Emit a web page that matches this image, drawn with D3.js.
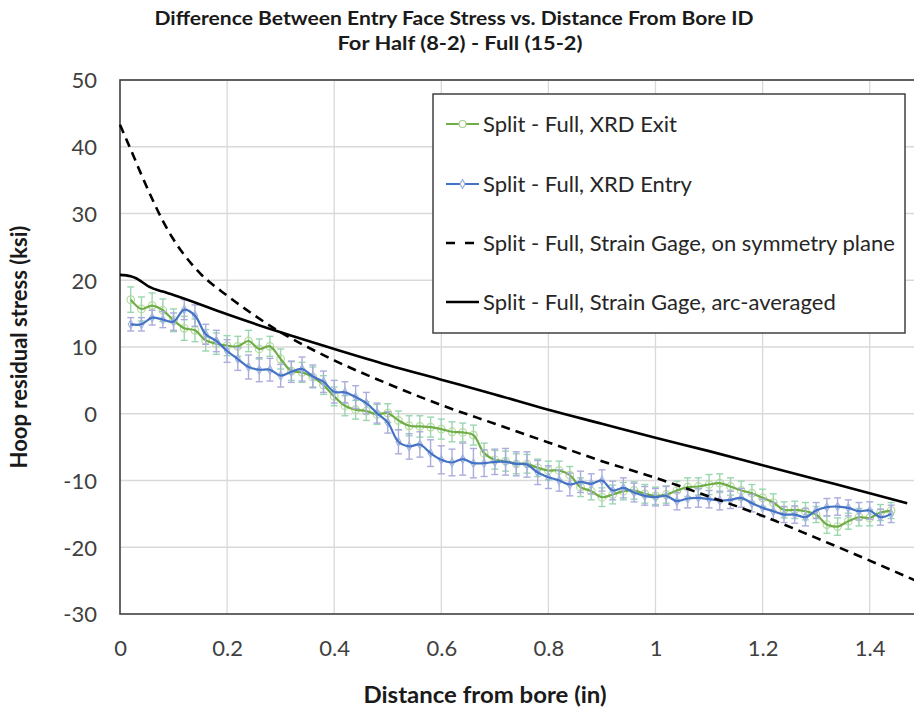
<!DOCTYPE html>
<html>
<head>
<meta charset="utf-8">
<script src="https://cdn.jsdelivr.net/npm/d3@7"></script>
<style>
  html, body { margin: 0; padding: 0; background: #fff; }
  svg { display: block; font-family: Lato, "Open Sans", sans-serif; }
</style>
</head>
<body>
<svg id="chart" width="914" height="711"></svg>
<script>
// Distance from bore (in) for the XRD measurements
const distance = [0.02,0.04,0.06,0.08,0.10,0.12,0.14,0.16,0.18,0.20,
  0.22,0.24,0.26,0.28,0.30,0.32,0.34,0.36,0.38,0.40,
  0.42,0.44,0.46,0.48,0.50,0.52,0.54,0.56,0.58,0.60,
  0.62,0.64,0.66,0.68,0.70,0.72,0.74,0.76,0.78,0.80,
  0.82,0.84,0.86,0.88,0.90,0.92,0.94,0.96,0.98,1.00,
  1.02,1.04,1.06,1.08,1.10,1.12,1.14,1.16,1.18,1.20,
  1.22,1.24,1.26,1.28,1.30,1.32,1.34,1.36,1.38,1.40,
  1.42,1.44];

// Split - Full, XRD Exit (ksi) and its error half-widths
const xrdExit = [17.1,15.7,16.2,15.5,14.0,12.8,12.5,11.0,10.5,10.2,
  10.1,10.9,9.7,10.1,8.2,6.4,6.2,5.5,4.3,2.6,
  1.2,0.6,0.4,-0.1,0.1,-1.0,-1.8,-1.9,-2.0,-2.3,
  -2.7,-2.8,-3.2,-5.9,-6.9,-7.1,-7.5,-7.5,-8.1,-8.5,
  -8.5,-9.2,-11.0,-11.6,-12.5,-12.1,-11.6,-11.5,-12.0,-12.3,
  -12.1,-11.5,-11.0,-10.9,-10.6,-10.4,-10.9,-11.5,-11.9,-12.6,
  -13.3,-14.4,-14.4,-14.6,-15.1,-16.6,-16.9,-16.1,-15.5,-15.6,
  -14.8,-14.5];
const xrdExitErr = [1.9,1.8,1.9,1.7,1.7,1.8,1.7,1.6,1.6,1.5,
  1.5,1.6,1.5,1.5,1.5,1.4,1.5,1.5,1.4,1.4,
  1.5,1.4,1.4,1.5,1.4,1.4,1.5,1.6,1.5,1.5,
  1.5,1.4,1.5,1.5,1.4,1.5,1.5,1.4,1.3,1.4,
  1.4,1.3,1.4,1.3,1.4,1.4,1.3,1.3,1.4,1.3,
  1.3,1.4,1.4,1.3,1.5,1.4,1.3,1.4,1.3,1.3,
  1.3,1.2,1.3,1.3,1.2,1.3,1.3,1.2,1.3,1.2,
  1.2,1.2];

// Split - Full, XRD Entry (ksi) and its error half-widths
const xrdEntry = [13.4,13.4,14.4,14.1,13.8,15.6,14.7,11.9,10.9,9.4,
  8.2,7.0,6.6,6.6,5.7,6.3,6.7,5.6,4.8,3.3,
  3.2,2.5,1.6,0.1,-1.3,-4.2,-4.9,-4.6,-5.9,-6.9,
  -7.3,-6.8,-7.4,-7.4,-7.2,-7.2,-7.5,-7.6,-8.8,-9.5,
  -10.0,-10.6,-10.2,-10.5,-10.0,-11.5,-11.1,-11.8,-12.3,-12.5,
  -12.3,-13.1,-12.7,-12.6,-12.8,-13.0,-12.9,-12.6,-13.4,-14.1,
  -14.6,-15.1,-15.1,-15.5,-14.5,-14.0,-13.9,-14.1,-14.6,-14.5,
  -15.5,-15.0];
const xrdEntryErr = [1.0,1.0,1.1,1.2,1.3,1.5,1.6,1.5,1.6,1.7,
  1.7,1.8,1.8,1.7,1.7,1.6,1.8,1.7,1.6,1.7,
  1.6,1.7,1.6,1.5,1.6,1.8,1.9,1.9,2.0,2.1,
  2.0,2.4,2.2,2.0,1.9,2.0,1.8,1.9,1.8,1.7,
  1.6,1.7,1.6,1.5,1.6,1.4,1.5,1.4,1.4,1.3,
  1.4,1.3,1.4,1.4,1.3,1.4,1.3,1.4,1.3,1.3,
  1.3,1.2,1.3,1.3,1.2,1.3,1.3,1.2,1.3,1.3,
  1.2,1.3];

// Strain gage, on symmetry plane
const gageSymX = [0,0.02,0.04,0.06,0.08,0.10,0.12,0.15,0.20,0.25,0.30,0.35,0.40,
  0.50,0.60,0.70,0.80,0.90,1.00,1.10,1.20,1.30,1.40,1.50];
const gageSymY = [43.3,39.6,35.8,32.2,28.9,26.1,23.8,21.0,17.7,14.8,12.2,10.0,8.0,
  4.5,1.3,-1.5,-4.3,-7.1,-9.6,-12.4,-15.3,-18.6,-22.0,-25.5];

// Strain gage, arc-averaged
const gageArcX = [0,0.02,0.03,0.04,0.055,0.08,0.10,0.20,0.30,0.40,0.50,0.60,0.70,
  0.80,0.90,1.00,1.10,1.20,1.30,1.40,1.47];
const gageArcY = [20.8,20.6,20.3,19.8,19.0,18.3,17.8,14.9,12.2,9.7,7.3,5.1,2.9,
  0.6,-1.5,-3.6,-5.6,-7.7,-9.8,-11.9,-13.4];

const xTicks = [0,0.2,0.4,0.6,0.8,1,1.2,1.4];
const xGrid = [0.2,0.4,0.6,0.8,1,1.2,1.4,1.6];
const yTicks = [-30,-20,-10,0,10,20,30,40,50];

const titleLines = ["Difference Between Entry Face Stress vs. Distance From Bore ID",
                    "For Half (8-2) - Full (15-2)"];
const xTitle = "Distance from bore (in)";
const yTitle = "Hoop residual stress (ksi)";
const legendLabels = ["Split - Full, XRD Exit", "Split - Full, XRD Entry",
  "Split - Full, Strain Gage, on symmetry plane", "Split - Full, Strain Gage, arc-averaged"];

const svg = d3.select("#chart");
const plot = {left: 120, top: 80, bottom: 614, unit: 535.5};

const x = d3.scaleLinear().domain([0, 1.6]).range([plot.left, plot.left + 1.6 * plot.unit]);
const y = d3.scaleLinear().domain([-30, 50]).range([plot.bottom, plot.top]);

// gridlines
const grid = svg.append("g");
grid.selectAll("line.v").data(xGrid).join("line")
  .attr("x1", d => x(d)).attr("x2", d => x(d))
  .attr("y1", y(50)).attr("y2", y(-30))
  .attr("stroke", "#d9d9d9").attr("stroke-width", 1.3);
grid.selectAll("line.h").data(yTicks.slice(1)).join("line")
  .attr("x1", x(0)).attr("x2", x(1.6))
  .attr("y1", d => y(d)).attr("y2", d => y(d))
  .attr("stroke", "#d9d9d9").attr("stroke-width", 1.3);

// plot frame
svg.append("rect")
  .attr("x", x(0)).attr("y", y(50))
  .attr("width", x(1.6) - x(0)).attr("height", y(-30) - y(50))
  .attr("fill", "none").attr("stroke", "#404040").attr("stroke-width", 1.6);

// axes (labels only)
const xAxis = d3.axisBottom(x).tickValues(xTicks).tickSize(0).tickPadding(0)
  .tickFormat(d => String(+d.toFixed(1)));
const yAxis = d3.axisLeft(y).tickValues(yTicks).tickSize(0).tickPadding(0)
  .tickFormat(d => String(d));

const gx = svg.append("g").attr("transform", `translate(0,${plot.bottom})`).call(xAxis);
gx.select(".domain").remove();
gx.selectAll("text").attr("y", 42).attr("dy", 0)
  .attr("font-size", 22).attr("fill", "#404040").attr("font-family", "Lato, sans-serif");

const gy = svg.append("g").attr("transform", `translate(${plot.left},0)`).call(yAxis);
gy.select(".domain").remove();
gy.selectAll("text").attr("x", -23).attr("dy", "0.36em")
  .attr("font-size", 22).attr("fill", "#404040").attr("font-family", "Lato, sans-serif");

// series
const pts = (xs, ys) => xs.map((d, i) => [d, ys[i]]);
const smooth = d3.line().x(d => x(d[0])).y(d => y(d[1])).curve(d3.curveCatmullRom.alpha(0.5));
const gageLine = d3.line().x(d => x(d[0])).y(d => y(d[1])).curve(d3.curveMonotoneX);

function errorBars(vals, errs, color) {
  const g = svg.append("g").attr("stroke", color).attr("stroke-width", 1.4).attr("fill", "none");
  distance.forEach((d, i) => {
    const cx = x(d), y1 = y(vals[i] + errs[i]), y2 = y(vals[i] - errs[i]);
    g.append("line").attr("x1", cx).attr("x2", cx).attr("y1", y1).attr("y2", y2);
    g.append("line").attr("x1", cx - 3.5).attr("x2", cx + 3.5).attr("y1", y1).attr("y2", y1);
    g.append("line").attr("x1", cx - 3.5).attr("x2", cx + 3.5).attr("y1", y2).attr("y2", y2);
  });
}

const exitPts = pts(distance, xrdExit);
const entryPts = pts(distance, xrdEntry);

// XRD exit
errorBars(xrdExit, xrdExitErr, "#9ad6b0");
svg.append("g").selectAll("circle").data(exitPts).join("circle")
  .attr("cx", d => x(d[0])).attr("cy", d => y(d[1])).attr("r", 3.8)
  .attr("fill", "none").attr("stroke", "#b5d99c").attr("stroke-width", 1.2);
svg.append("path").datum(exitPts).attr("d", smooth)
  .attr("fill", "none").attr("stroke", "#70ad47").attr("stroke-width", 2.2);

// XRD entry
errorBars(xrdEntry, xrdEntryErr, "#abacdc");
const diamond = d3.symbol().type(d3.symbolDiamond).size(22);
svg.append("g").selectAll("path").data(entryPts).join("path")
  .attr("transform", d => `translate(${x(d[0])},${y(d[1])})`).attr("d", diamond)
  .attr("fill", "none").attr("stroke", "#9db3e0").attr("stroke-width", 1.1);
svg.append("path").datum(entryPts).attr("d", smooth)
  .attr("fill", "none").attr("stroke", "#4472c4").attr("stroke-width", 2.2);

// strain gage curves
svg.append("path").datum(pts(gageSymX, gageSymY)).attr("d", gageLine)
  .attr("fill", "none").attr("stroke", "#000").attr("stroke-width", 2.6)
  .attr("stroke-dasharray", "9,6");
svg.append("path").datum(pts(gageArcX, gageArcY)).attr("d", gageLine)
  .attr("fill", "none").attr("stroke", "#000").attr("stroke-width", 2.6);

// legend
const legend = svg.append("g");
legend.append("rect").attr("x", 433).attr("y", 94).attr("width", 472).attr("height", 239)
  .attr("fill", "#fff").attr("stroke", "#404040").attr("stroke-width", 1.5);
const rowY = [124, 184, 243, 302];
const sample = {x1: 446, x2: 479};
legendLabels.forEach((label, i) => {
  const row = legend.append("g").attr("transform", `translate(0,${rowY[i]})`);
  const ln = row.append("line").attr("x1", sample.x1).attr("x2", sample.x2)
    .attr("y1", 0).attr("y2", 0);
  const mid = (sample.x1 + sample.x2) / 2;
  if (i === 0) {
    ln.attr("stroke", "#70ad47").attr("stroke-width", 2);
    row.append("circle").attr("cx", mid).attr("cy", 0).attr("r", 3.5)
      .attr("fill", "#fff").attr("stroke", "#a9d18e").attr("stroke-width", 1.2);
  } else if (i === 1) {
    ln.attr("stroke", "#4472c4").attr("stroke-width", 2);
    row.append("path").attr("transform", `translate(${mid},0)`).attr("d", diamond)
      .attr("fill", "#fff").attr("stroke", "#8faadc").attr("stroke-width", 1.1);
  } else if (i === 2) {
    ln.attr("stroke", "#000").attr("stroke-width", 2.6).attr("stroke-dasharray", "9,10");
  } else {
    ln.attr("stroke", "#000").attr("stroke-width", 2.6);
  }
  row.append("text").attr("x", 483).attr("y", 0).attr("dy", "0.36em")
    .attr("font-size", 22).attr("fill", "#262626").text(label);
});

// titles
svg.append("text").attr("x", 454).attr("y", 25).attr("text-anchor", "middle")
  .attr("font-size", 18).attr("font-weight", "bold").attr("fill", "#1a1a1a")
  .attr("textLength", 599).attr("lengthAdjust", "spacingAndGlyphs")
  .text(titleLines[0]);
svg.append("text").attr("x", 460).attr("y", 50).attr("text-anchor", "middle")
  .attr("font-size", 18).attr("font-weight", "bold").attr("fill", "#1a1a1a")
  .attr("textLength", 245).attr("lengthAdjust", "spacingAndGlyphs")
  .text(titleLines[1]);

svg.append("text").attr("x", 485).attr("y", 703).attr("text-anchor", "middle")
  .attr("font-size", 22).attr("font-weight", "bold").attr("fill", "#1a1a1a")
  .attr("textLength", 243).attr("lengthAdjust", "spacingAndGlyphs")
  .text(xTitle);
svg.append("text")
  .attr("transform", `translate(27,${(plot.top + plot.bottom) / 2}) rotate(-90)`)
  .attr("text-anchor", "middle")
  .attr("font-size", 22).attr("font-weight", "bold").attr("fill", "#1a1a1a")
  .text(yTitle);
</script>
</body>
</html>
